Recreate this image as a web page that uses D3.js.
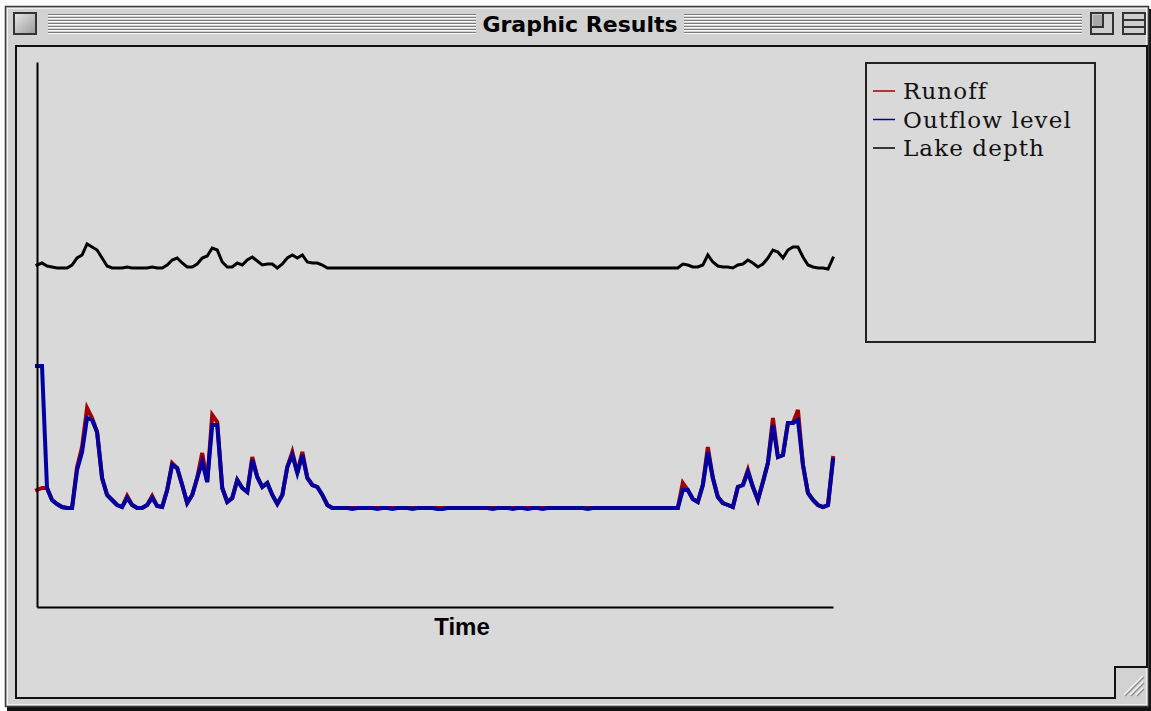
<!DOCTYPE html>
<html>
<head>
<meta charset="utf-8">
<script src="https://cdn.jsdelivr.net/npm/d3@7"></script>
<style>
  body { margin: 0; background: #ffffff; }
  svg { display: block; }
</style>
</head>
<body>
<svg id="chart" width="1151" height="711"></svg>
<script>
// ---- Data (time steps 0..159) ----
const seriesNames = ["Runoff", "Outflow level", "Lake depth"];
const seriesColors = ["#a00000", "#0000a0", "#000000"];
const windowTitle = "Graphic Results";
const xAxisLabel = "Time";

const outflow = [
  241,241,119,107,103,100,99,99,137,155,
  189,187,175,129,112,107,102,100,109,102,
  99,99,102,109,101,100,117,142,139,122,
  104,112,129,145,125,182,182,119,105,109,
  127,119,115,147,130,120,124,112,103,112,
  140,152,134,152,129,122,120,112,102,99,
  99,99,99,98,99,99,99,99,98,99,
  99,98,99,99,99,98,99,99,99,99,
  98,98,99,99,99,99,99,99,99,99,
  99,98,99,99,99,98,99,99,98,99,
  99,98,99,99,99,99,99,99,99,99,
  98,99,99,99,99,99,99,99,99,99,
  99,99,99,99,99,99,99,99,99,
  117,117,108,105,122,155,129,110,104,102,100,
  120,122,135,120,107,125,144,182,150,152,
  184,184,187,142,114,107,102,100,102,147
];

const runoff = [
  117,119,119,107,103,100,99,99,140,160,
  199,189,175,129,112,107,102,100,111,102,
  99,99,102,111,101,100,117,144,139,122,
  104,112,129,154,125,192,185,119,105,109,
  127,119,115,150,130,120,124,112,103,112,
  140,155,134,155,129,122,120,112,102,99,
  99,99,99,99,99,99,99,99,99,99,
  99,99,99,99,99,99,99,99,99,99,
  99,99,99,99,99,99,99,99,99,99,
  99,99,99,99,99,99,99,99,99,99,
  99,99,99,99,99,99,99,99,99,99,
  99,99,99,99,99,99,99,99,99,99,
  99,99,99,99,99,99,99,99,99,
  124,117,108,105,122,160,129,110,104,102,100,
  120,122,137,120,107,125,144,189,150,152,
  184,184,197,142,114,107,102,100,102,149
];

const lakeDepth = [
  342,344,341,340,339,339,339,342,349,352,
  363,360,357,349,341,339,339,339,340,339,
  339,339,339,340,339,339,342,347,349,344,
  340,340,343,349,351,359,357,345,340,340,
  344,342,347,350,346,342,343,343,339,343,
  349,352,349,352,345,344,344,342,339,339,
  339,339,339,339,339,339,339,339,339,339,
  339,339,339,339,339,339,339,339,339,339,
  339,339,339,339,339,339,339,339,339,339,
  339,339,339,339,339,339,339,339,339,339,
  339,339,339,339,339,339,339,339,339,339,
  339,339,339,339,339,339,339,339,339,339,
  339,339,339,339,339,339,339,339,339,
  343,342,340,340,342,352,345,341,340,340,339,
  342,343,347,344,340,343,349,357,355,349,
  357,360,360,350,342,340,339,339,338,349
];

// ---- Window chrome ----
const svg = d3.select("#chart");
const W = 1151, H = 711;

// shadow
svg.append("rect").attr("x", 7).attr("y", 9).attr("width", W - 7).attr("height", H - 9).attr("fill", "#111");
// outer window frame
svg.append("rect").attr("x", 5.5).attr("y", 6.5).attr("width", 1143).attr("height", 700)
  .attr("fill", "#d2d2d2").attr("stroke", "#3a3a3a").attr("stroke-width", 1.5);
// frame highlight
svg.append("rect").attr("x", 7.5).attr("y", 8.5).attr("width", 1139).attr("height", 696)
  .attr("fill", "none").attr("stroke", "#f0f0f0").attr("stroke-width", 1);

// title bar stripes
function stripes(x0, x1) {
  for (let i = 0; i < 7; i++) {
    const yy = 14 + i * 3;
    svg.append("line").attr("x1", x0).attr("x2", x1).attr("y1", yy + 0.5).attr("y2", yy + 0.5)
      .attr("stroke", "#7a7a7a").attr("stroke-width", 1);
    svg.append("line").attr("x1", x0).attr("x2", x1).attr("y1", yy + 1.5).attr("y2", yy + 1.5)
      .attr("stroke", "#fafafa").attr("stroke-width", 1);
  }
}
stripes(48, 476);
stripes(684, 1082);

const defs = svg.append("defs");
const grad = defs.append("linearGradient").attr("id", "btn").attr("x1", 0).attr("y1", 0).attr("x2", 1).attr("y2", 1);
grad.append("stop").attr("offset", "0%").attr("stop-color", "#e8e8e8");
grad.append("stop").attr("offset", "100%").attr("stop-color", "#9a9a9a");

// close box
svg.append("rect").attr("x", 14).attr("y", 13).attr("width", 22).attr("height", 21)
  .attr("fill", "url(#btn)").attr("stroke", "#333").attr("stroke-width", 2);
// zoom box
svg.append("rect").attr("x", 1091).attr("y", 13).attr("width", 22).attr("height", 21)
  .attr("fill", "#cfcfcf").attr("stroke", "#333").attr("stroke-width", 2);
svg.append("path").attr("d", "M1092,27 H1103 V14").attr("fill", "none").attr("stroke", "#333").attr("stroke-width", 2);
svg.append("rect").attr("x", 1093).attr("y", 15).attr("width", 9).attr("height", 11).attr("fill", "#a8a8a8");
// collapse box
svg.append("rect").attr("x", 1123).attr("y", 13).attr("width", 22).attr("height", 21)
  .attr("fill", "#cfcfcf").attr("stroke", "#333").attr("stroke-width", 2);
svg.append("line").attr("x1", 1123).attr("x2", 1145).attr("y1", 20).attr("y2", 20).attr("stroke", "#333").attr("stroke-width", 2);
svg.append("line").attr("x1", 1123).attr("x2", 1145).attr("y1", 27).attr("y2", 27).attr("stroke", "#333").attr("stroke-width", 2);

// title
svg.append("text").attr("x", 580).attr("y", 32).attr("text-anchor", "middle")
  .attr("font-family", "'DejaVu Sans', sans-serif").attr("font-weight", "bold")
  .attr("font-size", 22).attr("fill", "#000").text(windowTitle);

// inner content panel with size-box notch
svg.append("path")
  .attr("d", "M16,46 H1147 V667 H1115 V698 H16 Z")
  .attr("fill", "#d9d9d9").attr("stroke", "#111").attr("stroke-width", 2);
// grow box grip
for (let i = 0; i < 3; i++) {
  const o = i * 6;
  svg.append("line").attr("x1", 1124 + o).attr("y1", 695).attr("x2", 1143).attr("y2", 676 + o)
    .attr("stroke", "#fafafa").attr("stroke-width", 1.5);
  svg.append("line").attr("x1", 1125 + o).attr("y1", 696).attr("x2", 1144).attr("y2", 677 + o)
    .attr("stroke", "#8a8a8a").attr("stroke-width", 1.2);
}

// ---- Chart ----
const t = d3.range(outflow.length);
const x = d3.scaleLinear().domain([0, t.length - 1]).range([37, 833]);
const y = d3.scaleLinear().domain([0, 545]).range([607, 62]);

const g = svg.append("g");

const line = d3.line().x((d, i) => x(i)).y(d => y(d)).curve(d3.curveLinear);

g.append("path").datum(runoff).attr("d", line).attr("fill", "none")
  .attr("stroke", seriesColors[0]).attr("stroke-width", 4).attr("stroke-linejoin", "miter").attr("stroke-linecap", "square");
g.append("path").datum(outflow).attr("d", line).attr("fill", "none")
  .attr("stroke", seriesColors[1]).attr("stroke-width", 4).attr("stroke-linejoin", "miter").attr("stroke-linecap", "square");
g.append("path").datum(lakeDepth).attr("d", line).attr("fill", "none")
  .attr("stroke", seriesColors[2]).attr("stroke-width", 3).attr("stroke-linejoin", "miter").attr("stroke-linecap", "square");

// axes (no ticks)
const yAxis = g.append("g").attr("transform", "translate(37,0)")
  .call(d3.axisLeft(y).tickValues([]).tickSizeOuter(0));
const xAxis = g.append("g").attr("transform", "translate(0,607)")
  .call(d3.axisBottom(x).tickValues([]).tickSizeOuter(0));
[yAxis, xAxis].forEach(a => a.select(".domain").attr("stroke", "#000").attr("stroke-width", 2));

g.append("text").attr("x", 462).attr("y", 635).attr("text-anchor", "middle")
  .attr("font-family", "'Liberation Sans', Arial, sans-serif").attr("font-weight", "bold")
  .attr("font-size", 24).attr("fill", "#000").text(xAxisLabel);

// ---- Legend ----
const lg = svg.append("g");
lg.append("rect").attr("x", 866).attr("y", 63).attr("width", 229).attr("height", 279)
  .attr("fill", "none").attr("stroke", "#222").attr("stroke-width", 2);
seriesNames.forEach((name, i) => {
  const ly = 91 + i * 28.5;
  lg.append("line").attr("x1", 873).attr("x2", 895).attr("y1", ly).attr("y2", ly)
    .attr("stroke", seriesColors[i]).attr("stroke-width", 1.5);
  lg.append("text").attr("x", 903).attr("y", ly + 8).attr("font-family", "'DejaVu Serif', serif")
    .attr("font-size", 23).attr("letter-spacing", 1.1).attr("fill", "#111").text(name);
});
</script>
</body>
</html>
